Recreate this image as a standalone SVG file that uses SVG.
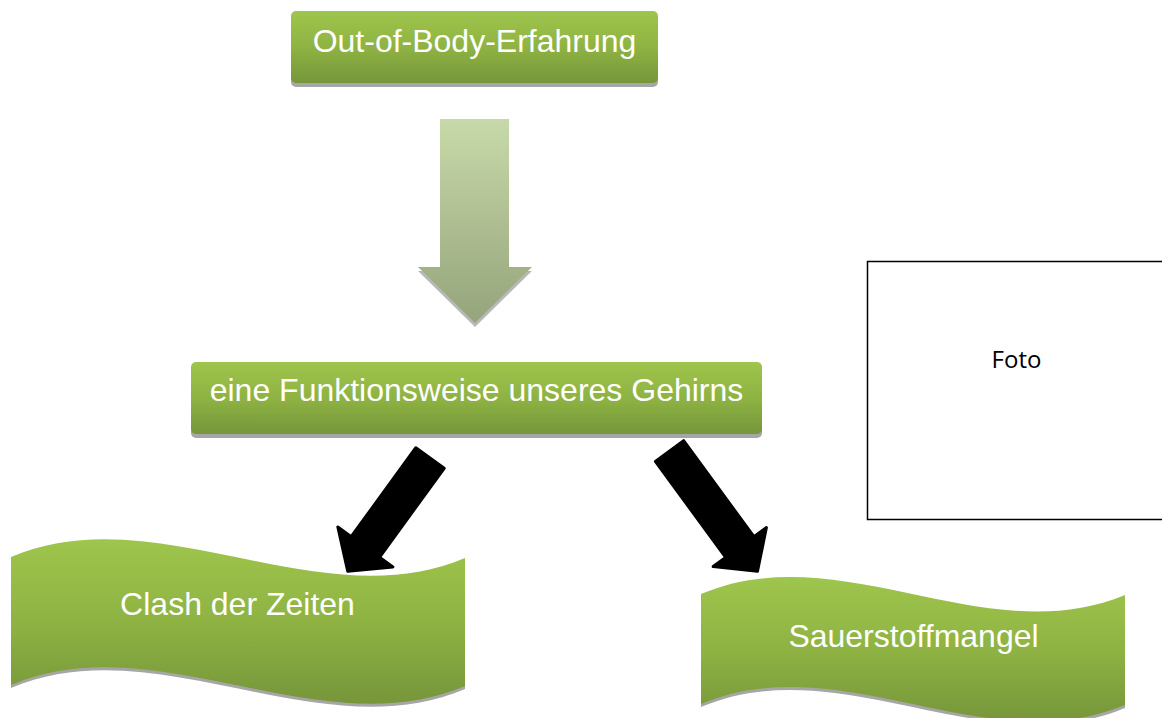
<svg xmlns="http://www.w3.org/2000/svg" width="1162" height="718" viewBox="0 0 1162 718">
<defs>
<linearGradient id="gGreen" x1="0" y1="0" x2="0" y2="1">
<stop offset="0" stop-color="#9ec54c"/>
<stop offset="0.5" stop-color="#8fb343"/>
<stop offset="1" stop-color="#76963a"/>
</linearGradient>
<linearGradient id="gSage" x1="0" y1="0" x2="0" y2="1">
<stop offset="0" stop-color="#c8d9a9"/>
<stop offset="1" stop-color="#95a47b"/>
</linearGradient>
<style>
.shadow{fill:#a6a6a6}
.green{fill:url(#gGreen)}
.lbl{font-family:"Liberation Sans",Arial,sans-serif;font-size:32px;fill:#ffffff;text-anchor:middle}
.blk{fill:#000;stroke:#000;stroke-width:3;stroke-linejoin:round}
.foto{font-family:"Open Sans","Noto Sans",sans-serif;font-size:24px;fill:#000;text-anchor:middle}
</style>
</defs>
<rect width="1162" height="718" fill="#ffffff"/>

<g id="connectors">
<g id="arrow-main">
<polygon class="shadow" points="440,123 509,123 509,271 532,271 475,327 418,271 440,271" opacity="0.8"/>
<polygon points="440,119 509,119 509,267 532,267 475,323 418,267 440,267" fill="url(#gSage)"/>
</g>
<polygon id="arrow-left" class="blk" transform="translate(430,458) rotate(36)" points="-17.5,0 17.5,0 17.5,110 34,110 0,140 -34,110 -17.5,110"/>
<polygon id="arrow-right" class="blk" transform="translate(669.5,451) rotate(-36.2)" points="-17.5,0 17.5,0 17.5,119 33,119 0,149 -33,119 -17.5,119"/>
</g>

<g id="node-top">
<rect class="shadow" x="291" y="15" width="367" height="72" rx="5"/>
<rect class="green" x="291" y="11" width="367" height="72" rx="5"/>
<text class="lbl" x="474.5" y="51.5">Out-of-Body-Erfahrung</text>
</g>

<g id="node-middle">
<rect class="shadow" x="191" y="366" width="571" height="72" rx="5"/>
<rect class="green" x="191" y="362" width="571" height="72" rx="5"/>
<text class="lbl" x="476.5" y="400.5">eine Funktionsweise unseres Gehirns</text>
</g>

<g id="node-clash">
<path class="shadow" d="M11,560 C156,498 320,623 465,561 L465,689 C320,751 156,626 11,688 Z"/>
<path class="green" d="M11,557 C156,495 320,620 465,558 L465,686 C320,748 156,623 11,685 Z"/>
<text class="lbl" x="237.5" y="615">Clash der Zeiten</text>
</g>

<g id="node-sauerstoff">
<path class="shadow" d="M701,597 C841,538 985,656 1125,598 L1125,708 C985,766 841,648 701,707 Z"/>
<path class="green" d="M701,594 C841,535 985,653 1125,595 L1125,705 C985,763 841,645 701,704 Z"/>
<text class="lbl" x="913.5" y="647">Sauerstoffmangel</text>
</g>

<g id="node-foto">
<rect x="867.5" y="261.5" width="310" height="258" fill="#ffffff" stroke="#000" stroke-width="1.5"/>
<text class="foto" x="1016.5" y="368">Foto</text>
</g>
</svg>
